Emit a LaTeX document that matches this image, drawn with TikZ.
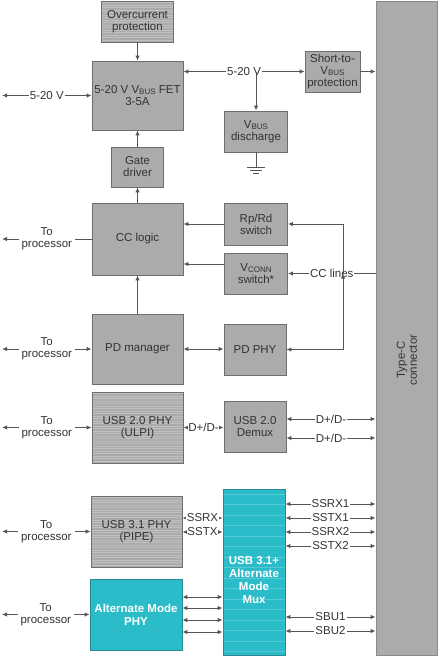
\documentclass[tikz,border=0pt]{standalone}
\usepackage{fontspec}
\setmainfont{Liberation Sans}
\usetikzlibrary{arrows.meta}
\usetikzlibrary{positioning}
\usetikzlibrary{calc}

\definecolor{boxgray}{HTML}{ABABAB}
\definecolor{edgegray}{HTML}{6E6E6E}
\definecolor{conngray}{HTML}{8A8A8A}
\definecolor{wiregray}{HTML}{555555}
\definecolor{txtgray}{HTML}{333333}
\definecolor{tealfill}{HTML}{2BBCC9}
\definecolor{tealedge}{HTML}{2A8A93}

\newcommand{\vsub}[1]{V{\fontsize{8}{8}\selectfont\raisebox{-0.8pt}{#1}}}

\tikzset{
  blk/.style={draw=edgegray, fill=boxgray, line width=0.8pt, align=center,
    inner sep=1pt, text=txtgray, font=\fontsize{11.5}{12}\selectfont},
  striped/.style={path picture={\foreach \k in {1.5,4,...,170}
    \draw[white!25!boxgray, line width=0.4pt]
      ([yshift=-\k pt]path picture bounding box.north west) --
      ([yshift=-\k pt]path picture bounding box.north east);}},
  tealblk/.style={fill=tealfill, draw=tealedge, text=white,
    font=\fontsize{11.5}{13}\selectfont\bfseries},
  tealstriped/.style={path picture={\foreach \k in {5,15.5,...,170}
    \draw[white!20!tealfill, line width=0.5pt]
      ([yshift=-\k pt]path picture bounding box.north west) --
      ([yshift=-\k pt]path picture bounding box.north east);}},
  lbl/.style={fill=white, inner sep=1pt, text=txtgray, align=center,
    font=\fontsize{11.5}{12}\selectfont},
}

\begin{document}
\begin{tikzpicture}[x=1pt, y=-1pt, >={Latex[length=5pt,width=4.5pt]}]
    \useasboundingbox (0,0) rectangle (439,656);
    \begin{scope}[every node/.style={blk}]
      \node[minimum width=72pt, minimum height=41pt, striped] (ocp) at (137.5,21.5) {Overcurrent\\protection};
      \node[minimum width=91pt, minimum height=69pt] (fet) at (137.5,95.5) {5-20 V \vsub{BUS} FET\\3-5A};
      \node[minimum width=52pt, minimum height=40pt] (gate) at (137.5,167) {Gate\\driver};
      \node[minimum width=55pt, minimum height=41pt] (short) at (332.5,71.5) {Short-to-\\\vsub{BUS}\\protection};
      \node[minimum width=63pt, minimum height=41pt] (dis) at (256,131.5) {\vsub{BUS}\\discharge};
      \node[minimum width=61pt, minimum height=654pt, draw=conngray] (conn) at (406.5,328) {};
      \node[minimum width=91pt, minimum height=72pt] (cc) at (137.5,239) {CC logic};
      \node[minimum width=63pt, minimum height=42pt] (rprd) at (256,224) {Rp/Rd\\switch};
      \node[minimum width=63pt, minimum height=41pt] (vconn) at (256,273.5) {\vsub{CONN}\\switch*};
      \node[minimum width=91pt, minimum height=70pt] (pdm) at (137.5,349) {PD manager};
      \node[minimum width=62pt, minimum height=51pt] (pdphy) at (255,349.5) {PD PHY};
      \node[minimum width=91pt, minimum height=71pt, striped] (usb2) at (137.5,427.5) {USB 2.0 PHY\\(ULPI)};
      \node[minimum width=62pt, minimum height=51pt] (demux) at (255,426.5) {USB 2.0\\Demux};
      \node[minimum width=91pt, minimum height=71pt, striped] (usb3) at (136.5,531.5) {USB 3.1 PHY\\(PIPE)};
      \node[minimum width=92pt, minimum height=71pt, tealblk] (alt) at (136,614.5) {Alternate Mode\\PHY};
      \node[minimum width=62pt, minimum height=166pt, tealblk, tealstriped] (mux) at (254,572) {};
    \end{scope}
    \node[lbl, fill=none, text=white, font=\fontsize{11.5}{13}\selectfont\bfseries] (muxtext) at (254,580) {USB 3.1+\\Alternate\\Mode\\Mux};
    \node[lbl, fill=none, rotate=90] (conntext) at (407,360) {Type-C\\connector};
    % free ends towards the processor side
    \coordinate (vin) at (2,95.5);
    \coordinate (pcc) at (2,239);
    \coordinate (ppd) at (2,349);
    \coordinate (pusb2) at (2,427.5);
    \coordinate (pusb3) at (2,531.5);
    \coordinate (palt) at (2,614.5);
    \coordinate (cl) at (343,273.5);
    \begin{scope}[every edge/.style={draw=wiregray, line width=1pt}]
      \path (ocp) edge[->] (fet);
      \path (gate) edge[->] (fet);
      \path (cc) edge[->] (gate);
      \path (pdm) edge[->] (cc);
      \path (vin) edge[<->] node[lbl] {5-20 V} (fet.west);
      \path (fet.east |- short.west) edge[<->] node[lbl] {5-20 V} (short.west);
      \path (dis.north |- short.west) edge[->] (dis.north);
      \path (short.east) edge[->] (conn.west |- short.east);
      \path (cc.west) edge[->] node[lbl, inner xsep=3pt] {To\\processor} (pcc);
      \path (rprd.west) edge[->] (cc.east |- rprd.west);
      \path (vconn.west |- 0,264) edge[->] (cc.east |- 0,264);
      \path (conn.west |- vconn.east) edge[->] node[lbl] {CC lines} (vconn.east);
      \path (ppd) edge[<->] node[lbl, inner xsep=3pt] {To\\processor} (pdm.west);
      \path (pdm.east) edge[<->] (pdm.east -| pdphy.west);
      \path (pusb2) edge[<->] node[lbl, inner xsep=3pt] {To\\processor} (usb2.west);
      \path (usb2.east) edge[<->] node[lbl, inner sep=0.5pt] {D+/D-} (usb2.east -| demux.west);
      \path (demux.east |- 0,419) edge[<->] node[lbl] {D+/D-} (conn.west |- 0,419);
      \path (demux.east |- 0,438) edge[<->] node[lbl] {D+/D-} (conn.west |- 0,438);
      \path (pusb3) edge[<->] node[lbl, inner xsep=3pt] {To\\processor} (usb3.west);
      \path (usb3.east |- 0,518) edge[<->] node[lbl, inner sep=0.5pt] {SSRX} (mux.west |- 0,518);
      \path (usb3.east |- 0,532) edge[<->] node[lbl, inner sep=0.5pt] {SSTX} (mux.west |- 0,532);
      \path (mux.east |- 0,504) edge[<->] node[lbl] {SSRX1} (conn.west |- 0,504);
      \path (mux.east |- 0,518) edge[<->] node[lbl] {SSTX1} (conn.west |- 0,518);
      \path (mux.east |- 0,532) edge[<->] node[lbl] {SSRX2} (conn.west |- 0,532);
      \path (mux.east |- 0,546) edge[<->] node[lbl] {SSTX2} (conn.west |- 0,546);
      \path (mux.east |- 0,617) edge[<->] node[lbl] {SBU1} (conn.west |- 0,617);
      \path (mux.east |- 0,631) edge[<->] node[lbl] {SBU2} (conn.west |- 0,631);
      \path (palt) edge[<->] node[lbl, inner xsep=3pt] {To\\processor} (alt.west);
      \path (alt.east |- 0,597) edge[<->] (mux.west |- 0,597);
      \path (alt.east |- 0,608) edge[<->] (mux.west |- 0,608);
      \path (alt.east |- 0,620) edge[<->] (mux.west |- 0,620);
      \path (alt.east |- 0,632) edge[<->] (mux.west |- 0,632);
    \end{scope}
    \draw[wiregray, line width=1pt, ->] (cl) |- (rprd.east);
    \draw[wiregray, line width=1pt, <->] (cl) |- (pdphy.east);
    % ground under the discharge block
    \draw[wiregray, line width=1pt] (dis.south) -- ++(0,15) coordinate (gnd);
    \draw[wiregray, line width=1pt] ($(gnd)+(-9,0)$) -- ($(gnd)+(9,0)$);
    \draw[wiregray, line width=1pt] ($(gnd)+(-6,3)$) -- ($(gnd)+(6,3)$);
    \draw[wiregray, line width=1pt] ($(gnd)+(-3,6)$) -- ($(gnd)+(3,6)$);
  \end{tikzpicture}
\end{document}
